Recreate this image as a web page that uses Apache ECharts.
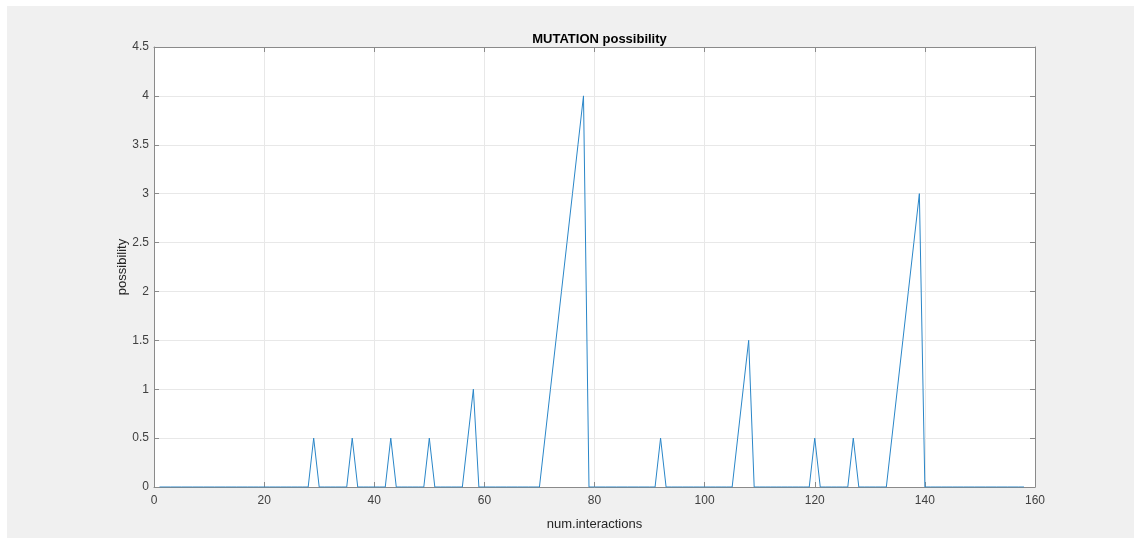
<!DOCTYPE html>
<html>
<head>
<meta charset="utf-8">
<style>
html,body{margin:0;padding:0;background:#fff;}
#c{width:1134px;height:538px;}
</style>
<script src="https://cdn.jsdelivr.net/npm/echarts@6/dist/echarts.min.js"></script>
</head>
<body>
<div id="c"></div>
<script>
// x values: iteration numbers 1..158
const iterations = [];
for (let i = 1; i <= 158; i++) iterations.push(i);
// possibility per iteration
const possibility = [
  0,0,0,0,0,0,0,0,0,0,          // 1-10
  0,0,0,0,0,0,0,0,0,0,          // 11-20
  0,0,0,0,0,0,0,0,0.5,0,        // 21-30
  0,0,0,0,0,0.5,0,0,0,0,        // 31-40
  0,0,0.5,0,0,0,0,0,0,0.5,      // 41-50
  0,0,0,0,0,0,0.5,1,0,0,        // 51-60
  0,0,0,0,0,0,0,0,0,0,          // 61-70
  0.5,1,1.5,2,2.5,3,3.5,4,0,0,  // 71-80
  0,0,0,0,0,0,0,0,0,0,          // 81-90
  0,0.5,0,0,0,0,0,0,0,0,        // 91-100
  0,0,0,0,0,0.5,1,1.5,0,0,      // 101-110
  0,0,0,0,0,0,0,0,0,0.5,        // 111-120
  0,0,0,0,0,0,0.5,0,0,0,        // 121-130
  0,0,0,0.5,1,1.5,2,2.5,3,0,    // 131-140
  0,0,0,0,0,0,0,0,0,0,          // 141-150
  0,0,0,0,0,0,0,0               // 151-158
];
const xTicks = [0,20,40,60,80,100,120,140,160];
const yTicks = [0,0.5,1,1.5,2,2.5,3,3.5,4,4.5];
const titleText = 'MUTATION possibility';
const xLabel = 'num.interactions';
const yLabel = 'possibility';

const chart = echarts.init(document.getElementById('c'));
const axisColor = '#8a8a8a';
const labelColor = '#404040';
const font = 'Liberation Sans, Arial, sans-serif';
const gridSide = {left:154, top:47, right:99, bottom:51};
chart.setOption({
  backgroundColor: '#ffffff',
  animation: false,
  graphic: [{type:'rect', shape:{x:7,y:6,width:1127,height:532}, style:{fill:'#f0f0f0'}, z:-10, silent:true}],
  title: {text: titleText, left: 594.5, textAlign:'center', top: 28,
    textStyle:{fontFamily:font, fontSize:13, fontWeight:'bold', color:'#000'}},
  grid: Object.assign({backgroundColor:'#ffffff', show:true, borderWidth:0}, gridSide),
  xAxis: [{
    type:'value', min:0, max:160, interval:20,
    name: xLabel, nameLocation:'middle', nameGap:31, nameMoveOverlap:false,
    nameTextStyle:{fontFamily:font, fontSize:13, color:'#262626'},
    axisLine:{show:true, onZero:false, lineStyle:{color:axisColor}},
    axisTick:{show:true, inside:true, length:5, lineStyle:{color:axisColor}},
    axisLabel:{fontFamily:font, fontSize:12, color:labelColor, margin:8},
    splitLine:{show:true, lineStyle:{color:'#e8e8e8', width:1}}
  },{
    type:'value', min:0, max:160, interval:20, position:'top',
    axisLine:{show:true, onZero:false, lineStyle:{color:axisColor}},
    axisTick:{show:true, inside:true, length:5, lineStyle:{color:axisColor}},
    axisLabel:{show:false}, splitLine:{show:false}
  }],
  yAxis: [{
    type:'value', min:0, max:4.5, interval:0.5,
    name: yLabel, nameLocation:'middle', nameGap:25, nameMoveOverlap:false,
    nameTextStyle:{fontFamily:font, fontSize:13, color:'#262626'},
    axisLine:{show:true, onZero:false, lineStyle:{color:axisColor}},
    axisTick:{show:true, inside:true, length:5, lineStyle:{color:axisColor}},
    axisLabel:{fontFamily:font, fontSize:12, color:labelColor, margin:5},
    splitLine:{show:true, lineStyle:{color:'#e8e8e8', width:1}}
  },{
    type:'value', min:0, max:4.5, interval:0.5, position:'right',
    axisLine:{show:true, onZero:false, lineStyle:{color:axisColor}},
    axisTick:{show:true, inside:true, length:5, lineStyle:{color:axisColor}},
    axisLabel:{show:false}, splitLine:{show:false}
  }],
  series: [{
    type:'line',
    data: iterations.map((x,i)=>[x, possibility[i]]),
    showSymbol:false, symbol:'none',
    lineStyle:{color:'#2a86c8', width:1},
    z: 5
  }]
});
</script>
</body>
</html>
